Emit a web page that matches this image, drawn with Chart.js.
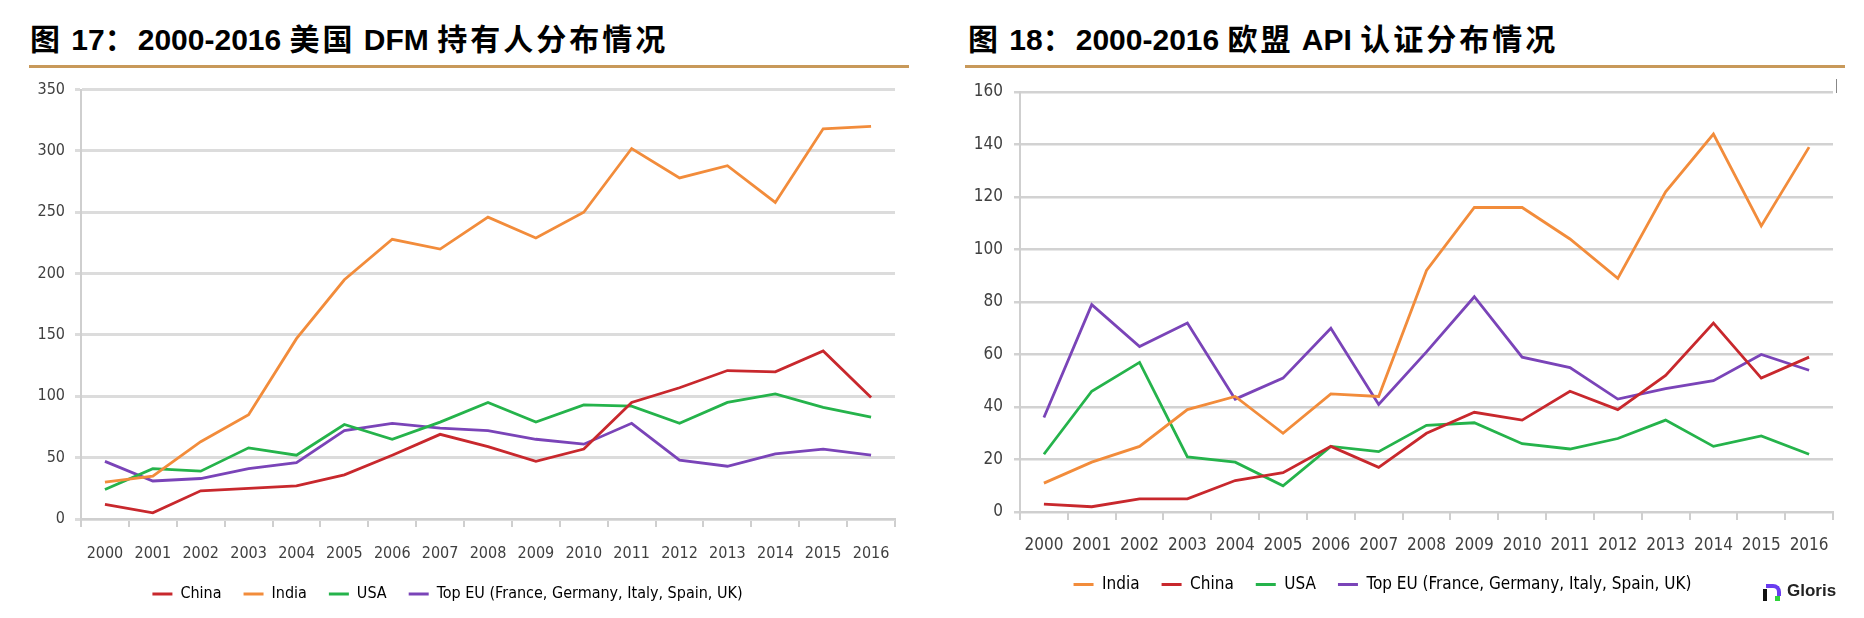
<!DOCTYPE html>
<html>
<head>
<meta charset="utf-8">
<script src="https://cdn.jsdelivr.net/npm/chart.js@4.4.0/dist/chart.umd.min.js"></script>
<style>
    body { margin: 0; width: 1864px; height: 618px; background: #fff; position: relative; overflow: hidden; font-family: 'Liberation Sans', Arial, sans-serif; }
    .title { position: absolute; top: 18px; font-weight: bold; font-size: 30px; line-height: 38px; color: #000; white-space: nowrap; }
    .title .cjk { font-family: 'Noto Sans CJK SC'; font-weight: 700; letter-spacing: 3px; }
    .rule { position: absolute; top: 65px; height: 3px; background: #c8995a; }
    .chart-box { position: absolute; top: 70px; width: 932px; height: 548px; }
    .frame-tick { position: absolute; left: 1836px; top: 79px; width: 1px; height: 14px; background: #888; }
    .logo { position: absolute; left: 1763px; top: 580px; height: 24px; font: bold 17px 'Liberation Sans Narrow', 'Liberation Sans', sans-serif; color: #222; }
    .logo .mark { position: absolute; left: 0; top: 4px; width: 16px; height: 16px; }
    .logo .arc { position: absolute; left: 3px; top: 0; width: 11px; height: 8px; border-top: 4px solid #6a3df0; border-right: 4px solid #6a3df0; border-radius: 0 8px 0 0; }
    .logo .post { position: absolute; left: 0; top: 5px; width: 4px; height: 12px; background: #111; }
    .logo .dot { position: absolute; left: 12px; top: 12px; width: 5px; height: 5px; background: #2fd23a; }
    .logo .word { position: absolute; left: 24px; top: 1px; }
</style>
</head>
<body>
<div class="title" style="left:30px;"><span class="cjk">图</span> 17<span class="cjk">：</span>2000-2016 <span class="cjk">美国</span> DFM <span class="cjk">持有人分布情况</span></div>
<div class="rule" style="left:29px; width:880px;"></div>
<div class="title" style="left:968px;"><span class="cjk">图</span> 18<span class="cjk">：</span>2000-2016 <span class="cjk">欧盟</span> API <span class="cjk">认证分布情况</span></div>
<div class="rule" style="left:965px; width:880px;"></div>

<div class="chart-box" style="left:0;"><canvas id="dfmChart" width="932" height="548"></canvas></div>
<div class="chart-box" style="left:932px;"><canvas id="apiChart" width="932" height="548"></canvas></div>
<div class="frame-tick"></div>
<div class="logo"><div class="mark"><div class="arc"></div><div class="post"></div><div class="dot"></div></div><span class="word">Gloris</span></div>

<script>
// Shared categories
const years = ['2000', '2001', '2002', '2003', '2004', '2005', '2006', '2007', '2008',
    '2009', '2010', '2011', '2012', '2013', '2014', '2015', '2016'];

// Fig 17: US DFM holders
const dfmChina = [12, 5, 23, 25, 27, 36, 52, 69, 59, 47, 57, 95, 107, 121, 120, 137, 99];
const dfmIndia = [30, 35, 63, 85, 147, 195, 228, 220, 246, 229, 250, 302, 278, 288, 258, 318, 320];
const dfmUSA = [24, 41, 39, 58, 52, 77, 65, 79, 95, 79, 93, 92, 78, 95, 102, 91, 83];
const dfmTopEU = [47, 31, 33, 41, 46, 72, 78, 74, 72, 65, 61, 78, 48, 43, 53, 57, 52];
const dfmTicks = [0, 50, 100, 150, 200, 250, 300, 350];

// Fig 18: EU API certificates
const apiIndia = [11, 19, 25, 39, 44, 30, 45, 44, 92, 116, 116, 104, 89, 122, 144, 109, 139];
const apiChina = [3, 2, 5, 5, 12, 15, 25, 17, 30, 38, 35, 46, 39, 52, 72, 51, 59];
const apiUSA = [22, 46, 57, 21, 19, 10, 25, 23, 33, 34, 26, 24, 28, 35, 25, 29, 22];
const apiTopEU = [36, 79, 63, 72, 43, 51, 70, 41, 61, 82, 59, 55, 43, 47, 50, 60, 54];
const apiTicks = [0, 20, 40, 60, 80, 100, 120, 140, 160];

const COLORS = {
    china: '#c8282d',
    india: '#f28c3b',
    usa: '#25b34b',
    eu: '#7a44b8'
};
const EU_LABEL = 'Top EU (France, Germany, Italy, Spain, UK)';
const FONT = "'Liberation Sans Narrow', 'DejaVu Sans Condensed', sans-serif";

function line(label, data, color) {
    return {
        label: label,
        data: data,
        borderColor: color,
        backgroundColor: color,
        borderWidth: 2.8,
        pointRadius: 0,
        tension: 0,
        fill: false
    };
}

function buildChart(id, datasets, ticks, cfg) {
    const ctx = document.getElementById(id);
    return new Chart(ctx, {
        type: 'line',
        data: { labels: years, datasets: datasets },
        options: {
            responsive: false,
            animation: false,
            devicePixelRatio: 1,
            layout: { padding: cfg.padding },
            plugins: {
                tooltip: { enabled: false },
                legend: {
                    position: 'bottom',
                    labels: {
                        boxWidth: 20,
                        boxHeight: 3,
                        padding: 22,
                        color: '#404040',
                        font: { family: FONT, size: cfg.legendSize },
                        generateLabels: (chart) => chart.data.datasets.map((ds, i) => ({
                            text: ds.label,
                            fillStyle: ds.borderColor,
                            strokeStyle: ds.borderColor,
                            lineWidth: 0,
                            datasetIndex: i
                        }))
                    }
                }
            },
            scales: {
                x: {
                    type: 'category',
                    offset: true,
                    grid: {
                        offset: true,
                        drawOnChartArea: false,
                        drawTicks: true,
                        tickLength: 8,
                        color: '#cfcfcf',
                        lineWidth: 2
                    },
                    border: { display: true, color: '#cfcfcf', width: 2 },
                    ticks: {
                        color: '#404040',
                        font: { family: FONT, size: cfg.fontSize },
                        padding: cfg.xPad,
                        maxRotation: 0,
                        autoSkip: false
                    },
                    afterFit: (scale) => { scale.height = cfg.xHeight; }
                },
                y: {
                    min: ticks[0],
                    max: ticks[ticks.length - 1],
                    grid: {
                        color: cfg.gridColor,
                        lineWidth: cfg.gridWidth,
                        drawTicks: true,
                        tickLength: 6
                    },
                    border: { display: true, color: '#cfcfcf', width: 2 },
                    ticks: {
                        stepSize: ticks[1] - ticks[0],
                        color: '#404040',
                        font: { family: FONT, size: cfg.fontSize },
                        padding: cfg.yPad
                    },
                    afterFit: (scale) => { scale.width = cfg.yWidth; }
                }
            }
        }
    });
}

document.addEventListener('DOMContentLoaded', () => {
    buildChart('dfmChart', [
        line('China', dfmChina, COLORS.china),
        line('India', dfmIndia, COLORS.india),
        line('USA', dfmUSA, COLORS.usa),
        line(EU_LABEL, dfmTopEU, COLORS.eu)
    ], dfmTicks, {
        padding: { left: 0, right: 37, top: 17, bottom: 6 },
        fontSize: 16,
        legendSize: 16,
        xPad: 17,
        xHeight: 45,
        yWidth: 81,
        yPad: 10,
        gridColor: '#dcdcdc',
        gridWidth: 3
    });

    buildChart('apiChart', [
        line('India', apiIndia, COLORS.india),
        line('China', apiChina, COLORS.china),
        line('USA', apiUSA, COLORS.usa),
        line(EU_LABEL, apiTopEU, COLORS.eu)
    ], apiTicks, {
        padding: { left: 0, right: 31, top: 22, bottom: 15 },
        fontSize: 17,
        legendSize: 17,
        xPad: 15,
        xHeight: 42,
        yWidth: 88,
        yPad: 11,
        gridColor: '#d2d2d2',
        gridWidth: 2.5
    });
});
</script>
</body>
</html>
